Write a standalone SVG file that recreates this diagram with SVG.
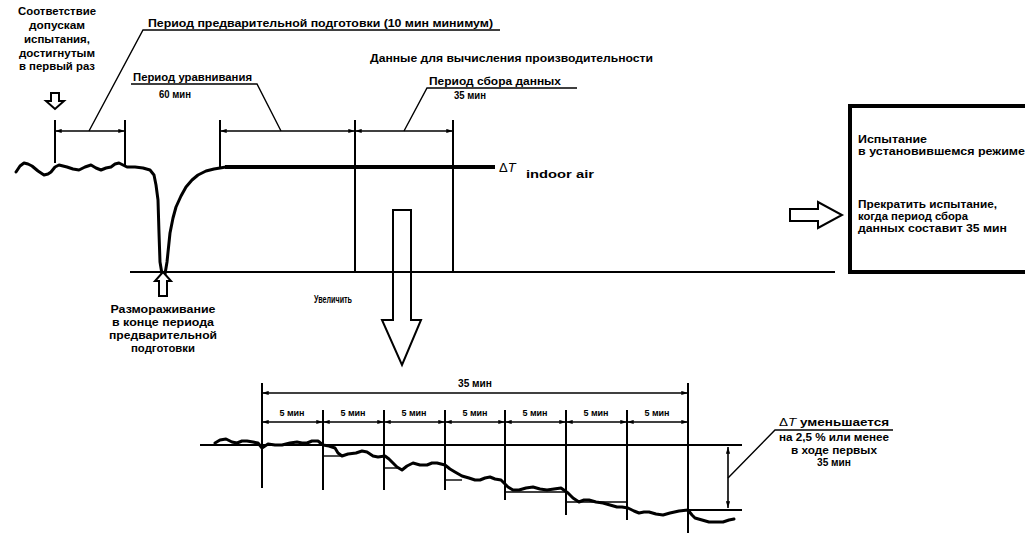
<svg xmlns="http://www.w3.org/2000/svg" width="1025" height="533" viewBox="0 0 1025 533">
<style>
text{font-family:"Liberation Sans",Arial,sans-serif;font-weight:bold;font-size:10px;fill:#000}
.c{text-anchor:middle}
.s{font-size:9px}
.ln{stroke:#000;stroke-width:2;fill:none}
.th{stroke:#000;stroke-width:1.4;fill:none}
.dim{stroke:#000;stroke-width:1.6;fill:none;marker-start:url(#a);marker-end:url(#a)}
.hol{stroke:#000;stroke-width:2;fill:#fff;stroke-linejoin:miter}
.crv{stroke:#000;stroke-width:3;fill:none;stroke-linejoin:round;stroke-linecap:round}
</style>
<defs>
<marker id="a" viewBox="0 0 8 6" refX="8" refY="3" markerWidth="7" markerHeight="5" markerUnits="userSpaceOnUse" orient="auto-start-reverse"><path d="M0,0.5 L8,3 L0,5.5 Z"/></marker>
</defs>

<g id="connectors">
  <line class="ln" x1="55" y1="120" x2="55" y2="163"/>
  <line class="ln" x1="125" y1="120" x2="125" y2="165"/>
  <line class="ln" x1="220" y1="120" x2="220" y2="167"/>
  <line class="ln" x1="355" y1="120" x2="355" y2="272"/>
  <line class="ln" x1="453" y1="120" x2="453" y2="272"/>
  <line class="dim" x1="55" y1="131" x2="125" y2="131"/>
  <line class="dim" x1="220" y1="131" x2="355" y2="131"/>
  <line class="dim" x1="355" y1="131" x2="453" y2="131"/>
  <polyline class="th" points="89,131 143,30 500,30"/>
  <polyline class="th" points="281,131 257,84 131,84"/>
  <polyline class="th" points="404,131 427,88 577,88"/>
  <line class="ln" x1="130" y1="272" x2="835" y2="272"/>
  <line class="ln" x1="262" y1="383" x2="262" y2="488"/>
  <line class="ln" x1="688" y1="383" x2="688" y2="533"/>
  <line class="dim" x1="262" y1="393" x2="688" y2="393"/>
  <line class="ln" x1="323" y1="410" x2="323" y2="490"/>
  <line class="ln" x1="384" y1="410" x2="384" y2="490"/>
  <line class="ln" x1="445" y1="410" x2="445" y2="490"/>
  <line class="ln" x1="505" y1="410" x2="505" y2="500"/>
  <line class="ln" x1="566" y1="410" x2="566" y2="515"/>
  <line class="ln" x1="627" y1="410" x2="627" y2="520"/>
  <line class="dim" x1="262" y1="422" x2="323" y2="422"/>
  <line class="dim" x1="323" y1="422" x2="384" y2="422"/>
  <line class="dim" x1="384" y1="422" x2="445" y2="422"/>
  <line class="dim" x1="445" y1="422" x2="505" y2="422"/>
  <line class="dim" x1="505" y1="422" x2="566" y2="422"/>
  <line class="dim" x1="566" y1="422" x2="627" y2="422"/>
  <line class="dim" x1="627" y1="422" x2="688" y2="422"/>
  <line class="ln" x1="200" y1="445" x2="742" y2="445"/>
  <line class="ln" x1="688" y1="510" x2="742" y2="510"/>
  <line class="th" x1="323" y1="456" x2="342" y2="456"/>
  <line class="th" x1="384" y1="468" x2="400" y2="468"/>
  <line class="th" x1="445" y1="480" x2="462" y2="480"/>
  <line class="th" x1="505" y1="492" x2="566" y2="492"/>
  <line class="th" x1="566" y1="502" x2="627" y2="502"/>
  <line class="dim" x1="728" y1="447" x2="728" y2="508"/>
  <polyline class="th" points="728,478 775,430 893,430"/>
</g>

<g id="curve-top">
  <polyline class="crv" points="16,172 20,166 24,163 28,164 32,166 38,171 44,175 48,174 51,172 55,167 59,165 63,166 67,167 73,169 79,170 85,167 91,165 96,168 101,170 106,168 111,167 115,164 119,163 123,165 127,167 135,167 143,168 150,170 154,175 156,185 158,200 159,233 160,262 162,274 165,274 167,262 170,233 173,218 176,207 181,196 186,187 192,180 198,175 206,171 214,169 226,167"/>
  <line stroke="#000" stroke-width="4" x1="225" y1="167" x2="495" y2="167"/>
</g>

<g id="curve-detail">
  <polyline class="crv" points="215,443 220,440 226,439 232,442 237,443 242,441 247,441 253,442 258,443 262,448 265,446 268,444 275,445 282,445 290,443 297,442 302,443 307,443 312,441 318,441 323,445 329,446 335,448 338,453 342,456 348,454 356,453 362,451 367,452 373,456 378,457 385,456 389,459 392,462 397,467 402,470 407,466 413,463 420,465 427,465 432,463 437,463 445,465 450,469 455,472 462,476 469,478 475,480 480,480 485,478 490,477 495,479 501,480 505,484 508,487 513,490 519,490 526,488 533,487 540,489 547,490 554,489 561,488 568,493 573,498 579,502 584,500 589,500 596,502 603,503 610,505 617,507 622,507 628,508 634,511 639,513 644,512 649,512 656,514 663,515 670,513 679,511 688,510 692,515 695,518 702,520 709,522 716,522 723,522 729,520 734,519"/>
</g>

<g id="arrows">
  <polygon class="hol" points="51,93 59,93 59,101 64,101 55,109 46,101 51,101"/>
  <polygon class="hol" points="163,272 171,281 167,281 167,296 159,296 159,281 155,281"/>
  <polygon class="hol" style="fill:none" points="393,210 411,210 411,320 421,320 402,365 382,320 393,320"/>
  <polygon class="hol" points="790,209 818,209 818,202 842,215 818,228 818,221 790,221"/>
</g>

<g id="node-first-tolerance">
  <text class="c" x="57" y="15" textLength="78" lengthAdjust="spacingAndGlyphs">Соответствие</text>
  <text class="c" x="57" y="29" textLength="56" lengthAdjust="spacingAndGlyphs">допускам</text>
  <text class="c" x="57" y="43" textLength="66" lengthAdjust="spacingAndGlyphs">испытания,</text>
  <text class="c" x="57" y="57" textLength="76" lengthAdjust="spacingAndGlyphs">достигнутым</text>
  <text class="c" x="57" y="70" textLength="76" lengthAdjust="spacingAndGlyphs">в первый раз</text>
</g>

<g id="node-precond">
  <text x="148" y="27" textLength="345" lengthAdjust="spacingAndGlyphs">Период предварительной подготовки (10 мин минимум)</text>
</g>

<g id="node-equilibrium">
  <text x="133" y="81" textLength="119" lengthAdjust="spacingAndGlyphs">Период уравнивания</text>
  <text class="c" x="175" y="98" textLength="32" lengthAdjust="spacingAndGlyphs">60 мин</text>
</g>

<g id="node-data">
  <text x="370" y="62" textLength="283" lengthAdjust="spacingAndGlyphs">Данные для вычисления производительности</text>
  <text x="429" y="85" textLength="132" lengthAdjust="spacingAndGlyphs">Период сбора данных</text>
  <text class="c" x="470" y="99" textLength="32" lengthAdjust="spacingAndGlyphs">35 мин</text>
</g>

<g id="node-indoor">
  <text x="499" y="172" style="font-size:13px;font-weight:normal">Δ<tspan font-style="italic">T</tspan></text>
  <text x="526" y="178" textLength="68" lengthAdjust="spacingAndGlyphs">indoor air</text>
</g>

<g id="node-defrost">
  <text class="c" x="163" y="313" textLength="105" lengthAdjust="spacingAndGlyphs">Размораживание</text>
  <text class="c" x="163" y="326" textLength="102" lengthAdjust="spacingAndGlyphs">в конце периода</text>
  <text class="c" x="163" y="339" textLength="108" lengthAdjust="spacingAndGlyphs">предварительной</text>
  <text class="c" x="163" y="352" textLength="64" lengthAdjust="spacingAndGlyphs">подготовки</text>
</g>

<g id="node-zoom">
  <text x="314" y="303" textLength="38" lengthAdjust="spacingAndGlyphs">Увеличить</text>
</g>

<g id="node-steady">
  <rect x="850" y="106" width="190" height="166" fill="none" stroke="#000" stroke-width="4"/>
  <text x="858" y="143" textLength="69" lengthAdjust="spacingAndGlyphs">Испытание</text>
  <text x="858" y="155" textLength="167" lengthAdjust="spacingAndGlyphs">в установившемся режиме</text>
  <text x="858" y="208" textLength="139" lengthAdjust="spacingAndGlyphs">Прекратить испытание,</text>
  <text x="858" y="220" textLength="110" lengthAdjust="spacingAndGlyphs">когда период сбора</text>
  <text x="858" y="232" textLength="149" lengthAdjust="spacingAndGlyphs">данных составит 35 мин</text>
</g>

<g id="node-detail-labels">
  <text class="c" x="475" y="387" textLength="34" lengthAdjust="spacingAndGlyphs">35 мин</text>
  <text class="c s" x="292" y="416">5 мин</text>
  <text class="c s" x="353" y="416">5 мин</text>
  <text class="c s" x="414" y="416">5 мин</text>
  <text class="c s" x="475" y="416">5 мин</text>
  <text class="c s" x="535" y="416">5 мин</text>
  <text class="c s" x="596" y="416">5 мин</text>
  <text class="c s" x="657" y="416">5 мин</text>
</g>

<g id="node-decrease">
  <text class="c" x="834" y="426" textLength="110" lengthAdjust="spacingAndGlyphs"><tspan style="font-weight:normal">Δ</tspan><tspan style="font-style:italic;font-weight:normal">T</tspan> уменьшается</text>
  <text class="c" x="834" y="441" textLength="110" lengthAdjust="spacingAndGlyphs">на 2,5 % или менее</text>
  <text class="c" x="834" y="454" textLength="86" lengthAdjust="spacingAndGlyphs">в ходе первых</text>
  <text class="c" x="834" y="466" textLength="34" lengthAdjust="spacingAndGlyphs">35 мин</text>
</g>
</svg>
